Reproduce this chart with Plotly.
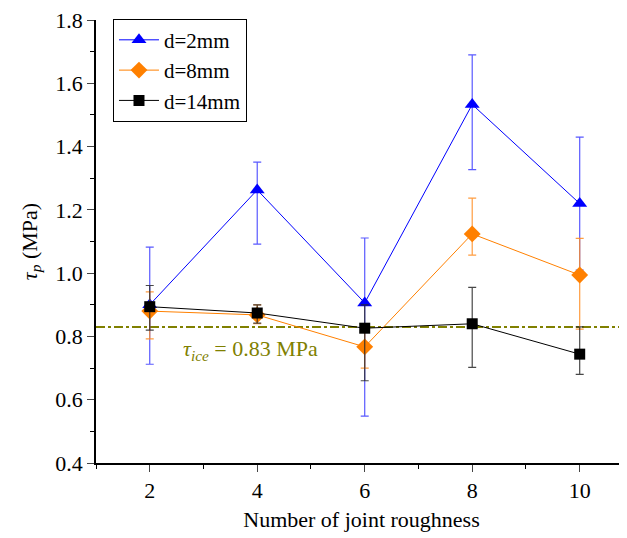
import plotly.graph_objects as go

x_vals = [2, 4, 6, 8, 10]

d2_mean = [0.90, 1.263, 0.906, 1.533, 1.22]
d2_upper = [1.082, 1.351, 1.111, 1.69, 1.43]
d2_lower = [0.712, 1.092, 0.548, 1.327, 1.01]

d8_mean = [0.88, 0.868, 0.767, 1.124, 0.994]
d8_upper = [0.941, 0.90, 0.835, 1.237, 1.11]
d8_lower = [0.792, 0.84, 0.70, 1.057, 0.823]

d14_mean = [0.894, 0.874, 0.826, 0.840, 0.744]
d14_upper = [0.961, 0.90, 0.90, 0.955, 0.83]
d14_lower = [0.820, 0.842, 0.66, 0.702, 0.68]

tau_ice = 0.83

series = [
    ("d=2mm", d2_mean, d2_upper, d2_lower, "#0000FF", "rgba(60,60,255,0.85)", "triangle-up", 13),
    ("d=8mm", d8_mean, d8_upper, d8_lower, "#FF8000", "rgba(255,140,30,0.85)", "diamond", 13),
    ("d=14mm", d14_mean, d14_upper, d14_lower, "#000000", "rgba(40,40,40,0.85)", "square", 11),
]

font_family = "Liberation Serif"

fig = go.Figure()
fig.add_hline(y=tau_ice, line=dict(color="#808000", width=2, dash="dashdot"), layer="below")

for name, mean, up, lo, col, ecol, sym, size in series:
    fig.add_trace(go.Scatter(
        x=x_vals, y=mean, name=name, mode="lines+markers",
        line=dict(color=col, width=1),
        marker=dict(symbol=sym, size=size, color=col),
        error_y=dict(type="data", symmetric=False,
                     array=[u - m for u, m in zip(up, mean)],
                     arrayminus=[m - l for m, l in zip(mean, lo)],
                     color=ecol, thickness=1.2, width=4),
    ))

fig.add_annotation(x=3.87, y=0.757, xref="x", yref="y",
                   text="<i>τ</i><sub><i>ice</i></sub> = 0.83 MPa",
                   showarrow=False, font=dict(family=font_family, size=22, color="#808000"))

# page body has an 8px default margin, so the figure is sized/placed to compensate
fig.update_layout(
    width=619, height=530,
    margin=dict(l=88, r=0, t=12, b=75, autoexpand=False),
    paper_bgcolor="white", plot_bgcolor="white",
    font=dict(family=font_family, size=22, color="black"),
    showlegend=True,
    legend=dict(x=0.032, y=1.003, xanchor="left", yanchor="top",
                bordercolor="black", borderwidth=1, bgcolor="white",
                font=dict(family=font_family, size=21), tracegroupgap=0,
                itemwidth=40),
)
fig.update_xaxes(range=[1, 10.88], tickvals=[2, 4, 6, 8, 10], ticks="outside", ticklen=7,
                 tickwidth=1, showline=True, linecolor="black", linewidth=1.5, showgrid=False,
                 zeroline=False, automargin=False, ticklabeloverflow="allow",
                 minor=dict(ticks="outside", ticklen=4, dtick=1, tick0=1, tickcolor="black"),
                 title=dict(text="Number of joint roughness", font=dict(family=font_family, size=22), standoff=9),
                 tickfont=dict(family=font_family, size=22))
fig.update_yaxes(range=[0.4, 1.8], dtick=0.2, tick0=0.4, tickformat=".1f", ticks="outside", ticklen=7,
                 tickwidth=1, showline=True, linecolor="black", linewidth=1.5, showgrid=False,
                 zeroline=False, automargin=False, ticklabeloverflow="allow",
                 minor=dict(ticks="outside", ticklen=4, dtick=0.1, tickcolor="black"),
                 title=dict(text="<i>τ</i><sub><i>p</i></sub> (MPa)", font=dict(family=font_family, size=22), standoff=12),
                 tickfont=dict(family=font_family, size=22))

fig.write_html("out.html")
